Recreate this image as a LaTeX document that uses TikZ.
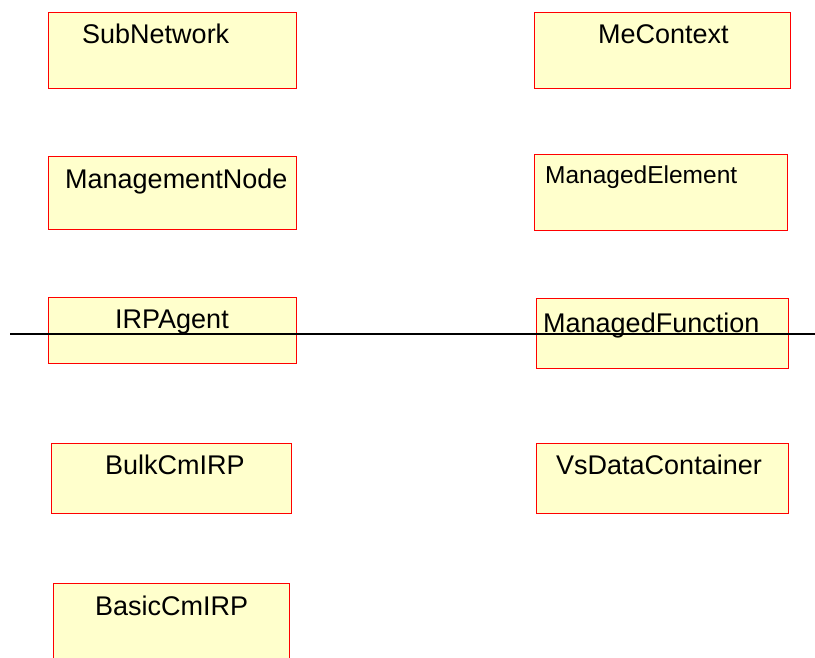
\documentclass[tikz,border=0pt]{standalone}
\usepackage{fontspec}
\setmainfont{Liberation Sans}
\definecolor{classfill}{HTML}{FFFFCC}
\definecolor{classline}{HTML}{FF0000}
\tikzset{
  classbox/.style={draw=classline, fill=classfill, line width=1pt,
    inner sep=0pt, anchor=north west},
  classname/.style={anchor=base west, inner sep=0pt,
    font=\fontsize{27}{30}\selectfont},
  smallname/.style={classname, font=\fontsize{24.5}{28}\selectfont},
  divider/.style={draw=black, line width=1.4pt}
}
% box edges sit on pixel centres so the red outline stays crisp
\newcommand{\classrect}[5]{% name, x1, y1, x2, y2
  \node[classbox, minimum width=#4pt-#2pt, minimum height=#5pt-#3pt]
    (#1) at (#2.5,#3.5) {};}
\begin{document}
\begin{tikzpicture}[x=1pt, y=-1pt]
  \useasboundingbox (0,0) rectangle (815,657);
  \clip (0,0) rectangle (815,657);
  \fill[white] (0,0) rectangle (815,657);

  % left column
  \classrect{subnet}{47}{11}{295}{87}
  \classrect{mgmtnode}{47}{155}{295}{228}
  \classrect{irpagent}{47}{296}{295}{362}
  \classrect{bulkcm}{50}{442}{290}{512}
  \classrect{basiccm}{52}{582}{288}{672}

  % right column
  \classrect{mecontext}{533}{11}{789}{87}
  \classrect{melement}{533}{153}{786}{229}
  \classrect{mfunction}{535}{297}{787}{367}
  \classrect{vsdata}{535}{442}{787}{512}

  % class names
  \node[classname] (subnetT)    at (82,43)   {SubNetwork};
  \node[classname] (mgmtnodeT)  at (65,188)  {ManagementNode};
  \node[classname] (irpagentT)  at (115,328) {IRPAgent};
  \node[classname] (bulkcmT)    at (105,474) {BulkCmIRP};
  \node[classname] (basiccmT)   at (95,615)  {BasicCmIRP};
  \node[classname] (mecontextT) at (598,43)  {MeContext};
  \node[smallname] (melementT)  at (545,183) {ManagedElement};
  \node[classname] (mfunctionT) at (543,332) {ManagedFunction};
  \node[classname] (vsdataT)    at (556,474) {VsDataContainer};

  % horizontal separator line
  \coordinate (sepL) at (10,334);
  \coordinate (sepR) at (815,334);
  \draw[divider] (sepL) -- (sepR);
\end{tikzpicture}
\end{document}
